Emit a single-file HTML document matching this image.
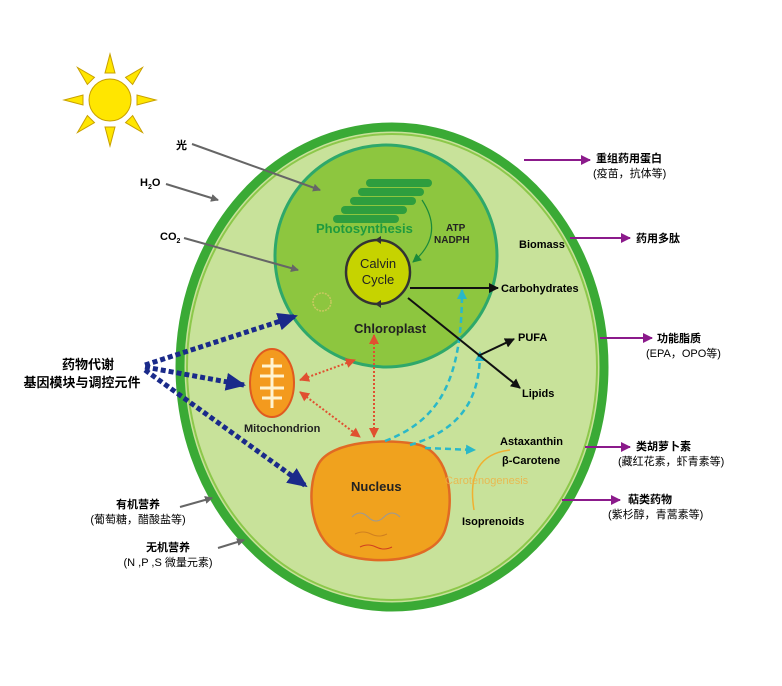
<!DOCTYPE html>
<html><head><meta charset="utf-8"><style>
body{margin:0;background:#fff}
svg text{font-family:"Liberation Sans","Noto Sans CJK SC",sans-serif}
</style></head><body>
<svg width="782" height="681" viewBox="0 0 782 681" xmlns="http://www.w3.org/2000/svg">
<defs>
<marker id="ag" markerWidth="8" markerHeight="8" refX="7" refY="4" orient="auto" markerUnits="userSpaceOnUse"><path d="M0,0L8,4L0,8z" fill="#666"/></marker>
<marker id="ak" markerWidth="10" markerHeight="10" refX="9" refY="5" orient="auto" markerUnits="userSpaceOnUse"><path d="M0,0L10,5L0,10z" fill="#111"/></marker>
<marker id="ap" markerWidth="10" markerHeight="10" refX="9" refY="5" orient="auto" markerUnits="userSpaceOnUse"><path d="M0,0L10,5L0,10z" fill="#8b1a8b"/></marker>
<marker id="ab" markerWidth="20" markerHeight="18" refX="18" refY="9" orient="auto" markerUnits="userSpaceOnUse"><path d="M0,0L20,9L0,18z" fill="#1a2a8a"/></marker>
<marker id="ar" markerWidth="10" markerHeight="10" refX="9" refY="5" orient="auto-start-reverse" markerUnits="userSpaceOnUse"><path d="M0,0L10,5L0,10z" fill="#e05030"/></marker>
<marker id="ac" markerWidth="10" markerHeight="10" refX="9" refY="5" orient="auto" markerUnits="userSpaceOnUse"><path d="M0,0L10,5L0,10z" fill="#2ab8c8"/></marker>
<marker id="agr" markerWidth="9" markerHeight="9" refX="8" refY="4.5" orient="auto" markerUnits="userSpaceOnUse"><path d="M0,0L9,4.5L0,9z" fill="#1a8a3a"/></marker>
</defs>
<!-- sun -->
<g fill="#ffe600" stroke="#c8a000" stroke-width="1">
<circle cx="110" cy="100" r="21"/>
<g transform="translate(110,100)">
<polygon points="-5,-27 5,-27 0,-46"/>
<polygon points="-5,27 5,27 0,46"/>
<polygon points="-27,-5 -27,5 -46,0"/>
<polygon points="27,-5 27,5 46,0"/>
<polygon points="-5,-27 5,-27 0,-46" transform="rotate(45)"/>
<polygon points="-5,-27 5,-27 0,-46" transform="rotate(135)"/>
<polygon points="-5,-27 5,-27 0,-46" transform="rotate(225)"/>
<polygon points="-5,-27 5,-27 0,-46" transform="rotate(315)"/>
</g></g>
<!-- cell -->
<ellipse cx="392" cy="367" rx="212" ry="240" fill="#c8e29a" stroke="#3aaa35" stroke-width="9"/>
<ellipse cx="392" cy="367" rx="205" ry="233" fill="none" stroke="#8cc84a" stroke-width="2"/>
<!-- chloroplast -->
<circle cx="386" cy="256" r="111" fill="#8dc63f" stroke="#2ea86a" stroke-width="3"/>
<g fill="#2e9e3e">
<rect x="366" y="179" width="66" height="8" rx="4"/>
<rect x="358" y="188" width="66" height="8" rx="4"/>
<rect x="350" y="197" width="66" height="8" rx="4"/>
<rect x="341" y="206" width="66" height="8" rx="4"/>
<rect x="333" y="215" width="66" height="8" rx="4"/>
</g>
<text x="316" y="233" font-size="13" font-weight="bold" fill="#1e9a3e">Photosynthesis</text>
<text x="446" y="231" font-size="10" font-weight="bold" fill="#222">ATP</text>
<text x="434" y="243" font-size="10" font-weight="bold" fill="#222">NADPH</text>
<path d="M422,200 Q445,235 413,262" fill="none" stroke="#1a8a3a" stroke-width="1.2" marker-end="url(#agr)"/>
<circle cx="378" cy="272" r="32" fill="#c6d300" stroke="#333" stroke-width="2.5"/>
<path d="M375,240 l6,-4 l0,8z M375,304 l6,-4 l0,8z" fill="#333"/>
<text x="378" y="268" font-size="13" text-anchor="middle" fill="#222">Calvin</text>
<text x="378" y="284" font-size="13" text-anchor="middle" fill="#222">Cycle</text>
<circle cx="322" cy="302" r="9" fill="none" stroke="#c8c860" stroke-width="1.5" stroke-dasharray="2 1"/>
<text x="354" y="333" font-size="13" font-weight="bold" fill="#222">Chloroplast</text>
<!-- mitochondrion -->
<ellipse cx="272" cy="383" rx="22" ry="34" fill="#f39a1e" stroke="#e05a20" stroke-width="2"/>
<path d="M272,358 V408 M262,366 H282 M260,376 H284 M260,388 H284 M262,398 H282" stroke="#fff3d0" stroke-width="3" fill="none"/>
<text x="244" y="432" font-size="11" font-weight="bold" fill="#222">Mitochondrion</text>
<!-- nucleus -->
<path d="M318,465 C330,440 390,438 420,445 C450,455 455,500 445,530 C435,560 380,566 345,555 C310,545 305,490 318,465z" fill="#f0a21e" stroke="#e06a24" stroke-width="2.5"/>
<text x="351" y="491" font-size="13" font-weight="bold" fill="#222">Nucleus</text>
<path d="M352,517 q8,-8 16,0 t16,0 t16,0" stroke="#999" fill="none"/>
<path d="M355,534 q8,-4 16,0 t16,0" stroke="#d08020" fill="none"/>
<path d="M360,547 q8,-4 16,0 t16,0" stroke="#d04020" fill="none"/>
<!-- arrows from outside -->
<line x1="192" y1="144" x2="320" y2="190" stroke="#666" stroke-width="2" marker-end="url(#ag)"/>
<text x="176" y="149" font-size="11" font-weight="bold">光</text>
<line x1="166" y1="184" x2="218" y2="200" stroke="#666" stroke-width="2" marker-end="url(#ag)"/>
<text x="140" y="186" font-size="11" font-weight="bold">H<tspan font-size="7" dy="3">2</tspan><tspan dy="-3">O</tspan></text>
<line x1="184" y1="238" x2="298" y2="270" stroke="#666" stroke-width="2" marker-end="url(#ag)"/>
<text x="160" y="240" font-size="11" font-weight="bold">CO<tspan font-size="7" dy="3">2</tspan></text>
<line x1="180" y1="507" x2="212" y2="498" stroke="#666" stroke-width="2" marker-end="url(#ag)"/>
<line x1="218" y1="548" x2="244" y2="540" stroke="#666" stroke-width="2" marker-end="url(#ag)"/>
<text x="138" y="508" font-size="11" font-weight="bold" text-anchor="middle">有机营养</text>
<text x="138" y="523" font-size="11" text-anchor="middle">(葡萄糖，醋酸盐等)</text>
<text x="168" y="551" font-size="11" font-weight="bold" text-anchor="middle">无机营养</text>
<text x="168" y="566" font-size="11" text-anchor="middle">(N ,P ,S 微量元素)</text>
<!-- blue dotted -->
<g stroke="#1a2a8a" stroke-width="5" stroke-dasharray="5 3" fill="none">
<line x1="145" y1="365" x2="296" y2="316" marker-end="url(#ab)"/>
<line x1="145" y1="367" x2="244" y2="385" marker-end="url(#ab)"/>
<line x1="145" y1="370" x2="306" y2="486" marker-end="url(#ab)"/>
</g>
<text x="88" y="369" font-size="13" font-weight="bold" text-anchor="middle">药物代谢</text>
<text x="82" y="387" font-size="13" font-weight="bold" text-anchor="middle">基因模块与调控元件</text>
<!-- red dotted -->
<g stroke="#e05030" stroke-width="2" stroke-dasharray="2 2" fill="none">
<line x1="300" y1="380" x2="355" y2="360" marker-start="url(#ar)" marker-end="url(#ar)"/>
<line x1="300" y1="392" x2="360" y2="437" marker-start="url(#ar)" marker-end="url(#ar)"/>
<line x1="374" y1="335" x2="374" y2="437" marker-start="url(#ar)" marker-end="url(#ar)"/>
</g>
<!-- cyan dashed -->
<g stroke="#2ab8c8" stroke-width="2.5" stroke-dasharray="6 4" fill="none">
<path d="M385,441 C440,420 462,380 462,290" marker-end="url(#ac)"/>
<path d="M410,445 C460,430 480,400 480,352" marker-end="url(#ac)"/>
<path d="M425,448 L475,450" marker-end="url(#ac)"/>
</g>
<!-- black arrows -->
<line x1="410" y1="288" x2="498" y2="288" stroke="#111" stroke-width="2" marker-end="url(#ak)"/>
<line x1="408" y1="298" x2="520" y2="388" stroke="#111" stroke-width="2" marker-end="url(#ak)"/>
<line x1="478" y1="356" x2="514" y2="339" stroke="#111" stroke-width="2" marker-end="url(#ak)"/>
<text x="501" y="292" font-size="11" font-weight="bold">Carbohydrates</text>
<text x="518" y="341" font-size="11" font-weight="bold">PUFA</text>
<text x="522" y="397" font-size="11" font-weight="bold">Lipids</text>
<text x="519" y="248" font-size="11" font-weight="bold">Biomass</text>
<text x="500" y="445" font-size="11" font-weight="bold">Astaxanthin</text>
<text x="502" y="464" font-size="11" font-weight="bold">β-Carotene</text>
<path d="M474,510 Q465,455 510,450" fill="none" stroke="#f0b030" stroke-width="1.5"/>
<text x="445" y="484" font-size="11" fill="#f0b040" opacity="0.8">Carotenogenesis</text>
<text x="462" y="525" font-size="11" font-weight="bold">Isoprenoids</text>
<!-- purple right arrows -->
<g stroke="#8b1a8b" stroke-width="2">
<line x1="524" y1="160" x2="590" y2="160" marker-end="url(#ap)"/>
<line x1="570" y1="238" x2="630" y2="238" marker-end="url(#ap)"/>
<line x1="600" y1="338" x2="652" y2="338" marker-end="url(#ap)"/>
<line x1="585" y1="447" x2="630" y2="447" marker-end="url(#ap)"/>
<line x1="562" y1="500" x2="620" y2="500" marker-end="url(#ap)"/>
</g>
<g font-size="11">
<text x="596" y="162" font-weight="bold">重组药用蛋白</text>
<text x="593" y="177">(疫苗，抗体等)</text>
<text x="636" y="242" font-weight="bold">药用多肽</text>
<text x="657" y="342" font-weight="bold">功能脂质</text>
<text x="646" y="357">(EPA，OPO等)</text>
<text x="636" y="450" font-weight="bold">类胡萝卜素</text>
<text x="618" y="465">(藏红花素，虾青素等)</text>
<text x="628" y="503" font-weight="bold">萜类药物</text>
<text x="608" y="518">(紫杉醇，青蒿素等)</text>
</g>
</svg>
</body></html>
